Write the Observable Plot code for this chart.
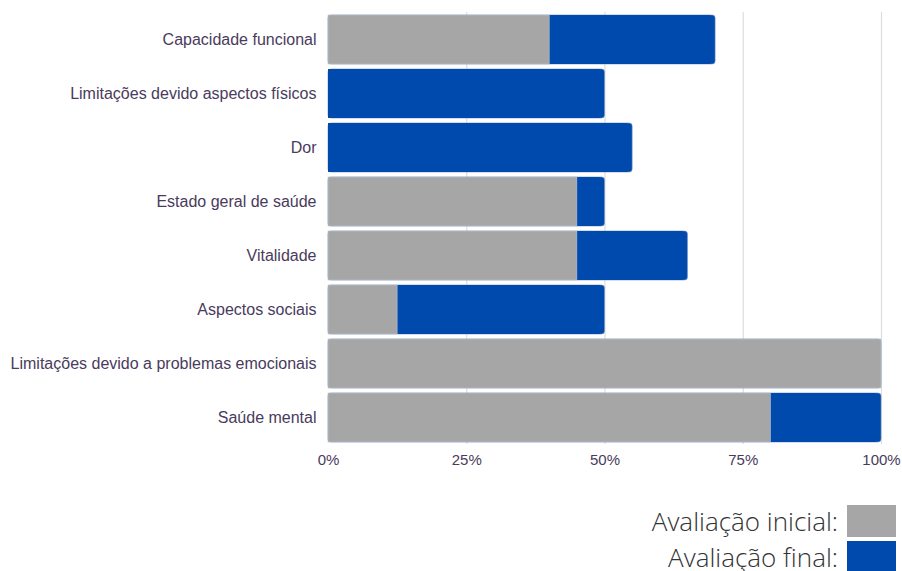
<!DOCTYPE html>
<html><head><meta charset="utf-8">
<script src="https://cdn.jsdelivr.net/npm/d3@7"></script>
<script src="https://cdn.jsdelivr.net/npm/@observablehq/plot@0.6"></script>
<style>
body{margin:0;background:#fff;font-family:"Liberation Sans",sans-serif;}
#legend{width:902px;margin-top:23px;font-family:"Open Sans",sans-serif;font-weight:300;font-size:26px;color:#333;}
.row{display:flex;justify-content:flex-end;align-items:center;height:36px;padding-right:6px;}
.sw{width:49px;height:32px;margin-left:9px;}
</style></head>
<body><div id="chart"></div><div id="legend"></div>
<script>
const categories = ["Capacidade funcional","Limitações devido aspectos físicos","Dor","Estado geral de saúde","Vitalidade","Aspectos sociais","Limitações devido a problemas emocionais","Saúde mental"];
const initial = [40, 0, 0, 45, 45, 12.5, 100, 80];
const final = [70, 50, 55, 50, 65, 50, 100, 100];
const ticks = [0, 25, 50, 75, 100];
const seriesNames = ["Avaliação inicial:", "Avaliação final:"];
const colors = ["#a6a6a6", "#004aad"];

const data = categories.map((c, i) => ({cat: c, ini: initial[i], fin: final[i]}));

const chart = Plot.plot({
  width: 902, height: 480,
  marginLeft: 328, marginRight: 21, marginTop: 12, marginBottom: 36,
  style: {fontFamily: "'Liberation Sans', Arial, sans-serif", fontSize: "15px", color: "#4a3b5c", overflow: "visible"},
  x: {domain: [0, 100], label: null},
  y: {domain: categories, label: null, paddingInner: 0.1, paddingOuter: 0.05},
  marks: [
    Plot.ruleX(ticks.slice(1), {stroke: "#dddddd", strokeWidth: 1.2}),
    Plot.barX(data, {x: "fin", y: "cat", fill: colors[1], rx: 3, stroke: "#6f8fc4", strokeWidth: 0.6}),
    Plot.barX(data, {x: "fin", y: "cat", fill: colors[1], insetRight: 5}),
    Plot.barX(data.filter(d => d.ini > 0), {x: "ini", y: "cat", fill: colors[0], stroke: "#b8c4d4", strokeWidth: 0.6}),
    Plot.axisX({ticks: ticks, tickFormat: d => d + "%", tickSize: 0, tickPadding: 10, fontSize: 15, label: null}),
    Plot.axisY({tickSize: 0, tickPadding: 12, fontSize: 16, label: null})
  ]
});
document.getElementById("chart").appendChild(chart);

const leg = document.getElementById("legend");
seriesNames.forEach((n, i) => {
  const r = document.createElement("div"); r.className = "row";
  const t = document.createElement("span"); t.textContent = n;
  const s = document.createElement("span"); s.className = "sw"; s.style.background = colors[i];
  r.appendChild(t); r.appendChild(s); leg.appendChild(r);
});
</script></body></html>
